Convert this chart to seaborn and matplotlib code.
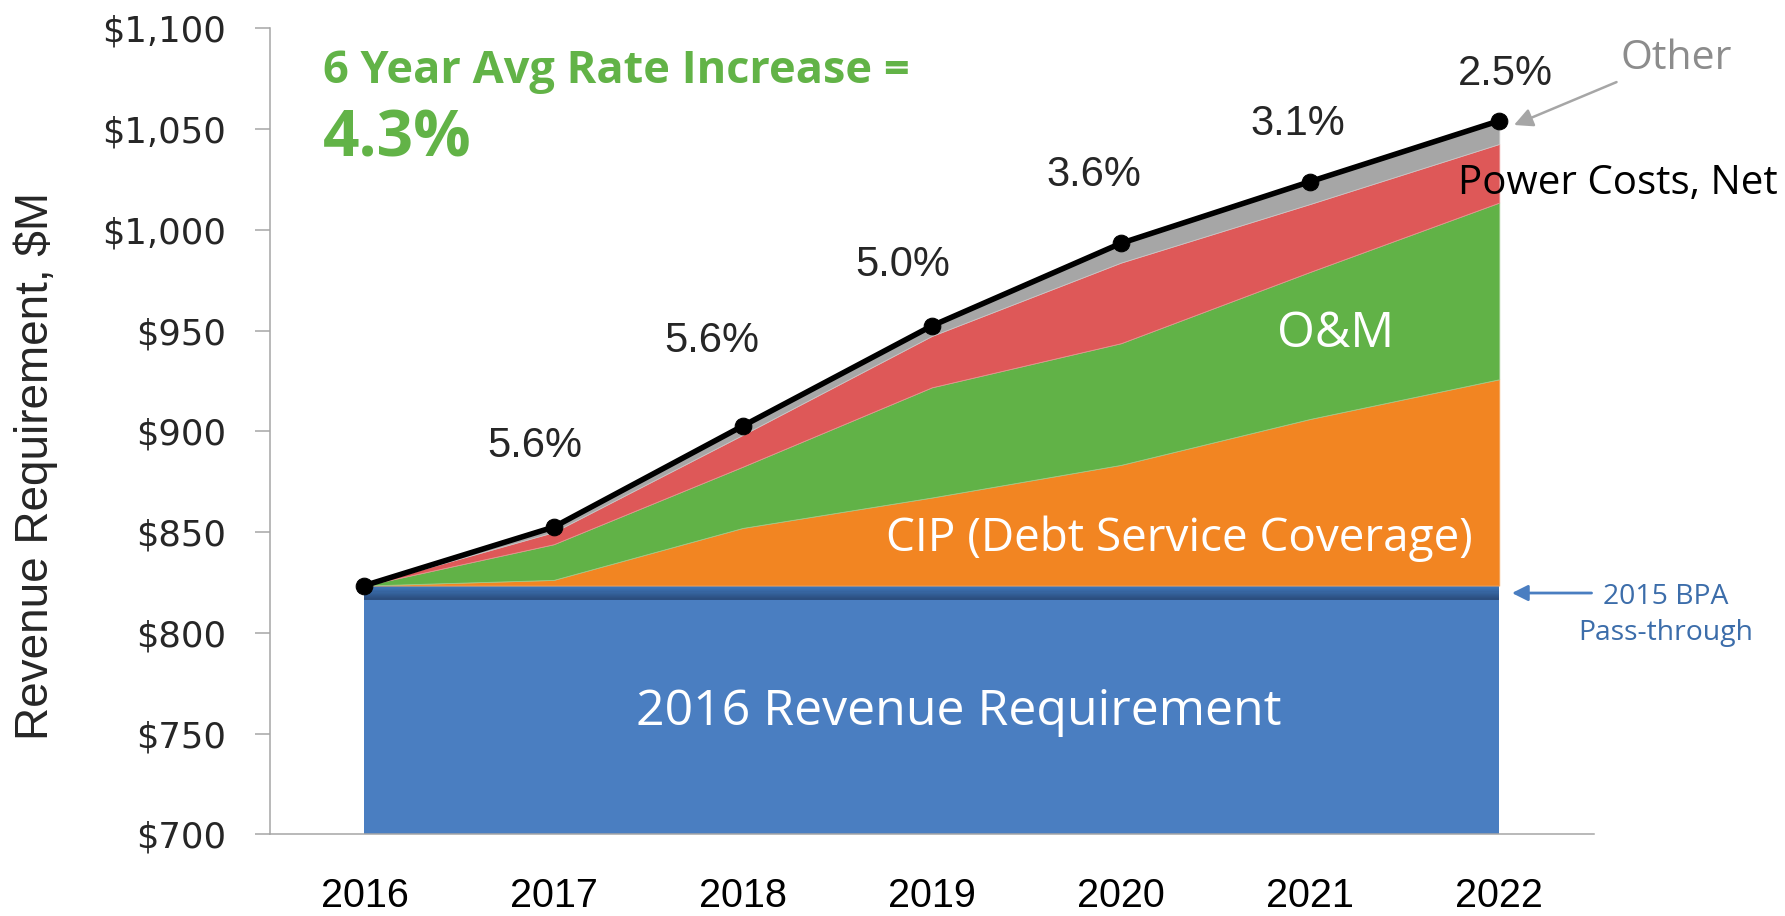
import numpy as np
import pandas as pd
import matplotlib
matplotlib.use("Agg")
import matplotlib.pyplot as plt
import seaborn as sns
from matplotlib.colors import to_rgb

# ---------------- data ----------------
years = ["2016", "2017", "2018", "2019", "2020", "2021", "2022"]
base_2016 = [816.5] * 7                      # 2016 Revenue Requirement
bpa_pass = [7.0] * 7                         # 2015 BPA Pass-through
cip = [0, 2.8, 28.6, 43.7, 59.9, 82.7, 102.4]   # CIP (Debt Service Coverage)
om = [0, 17.7, 30.4, 54.7, 60.4, 73.0, 87.7]    # O&M
power = [0, 6.0, 15.8, 25.5, 40.0, 33.7, 29.1]  # Power Costs, Net
other = [0, 2.5, 4.4, 5.0, 9.6, 11.1, 11.5]     # Other
rate_labels = ["", "5.6%", "5.6%", "5.0%", "3.6%", "3.1%", "2.5%"]
yticks = [700, 750, 800, 850, 900, 950, 1000, 1050, 1100]
avg_title = "6 Year Avg Rate Increase ="
avg_value = "4.3%"

# ---------------- styling ----------------
C_BLUE = "#4A7EC1"
C_ORANGE = "#F28522"
C_GREEN = "#61B247"
C_RED = "#DE5858"
C_GRAY = "#A6A6A6"
C_TITLE = "#62B347"
C_BPA_TXT = "#3C6DAA"
C_AXIS = "#A6A6A6"

sns.set_theme(style="white")
plt.rcParams["font.family"] = ["Liberation Sans", "DejaVu Sans"]

fig = plt.figure(figsize=(17.85, 9.16), dpi=100)
ax = fig.add_axes([0.1512, 0.0891, 0.7417, 0.8798])

x = np.arange(len(years))
ymin, ymax = yticks[0], yticks[-1]

b = np.array(base_2016, dtype=float)
bp = b + np.array(bpa_pass)
c1 = bp + np.array(cip)
c2 = c1 + np.array(om)
c3 = c2 + np.array(power)
total = c3 + np.array(other)

# base
ax.fill_between(x, ymin, b, color=C_BLUE, lw=0, zorder=1)
# BPA band with gradient (dark bottom, lighter top)
dark = np.array(to_rgb("#2A4C7C"))
light = np.array(to_rgb("#4079BD"))
nslice = 12
for i in range(nslice):
    lo = b + (bp - b) * i / nslice
    hi = b + (bp - b) * (i + 1) / nslice
    t = (i + 0.5) / nslice
    col = dark * (1 - t) + light * t
    ax.fill_between(x, lo, hi, color=col, lw=0, zorder=1)
ax.fill_between(x, bp, c1, color=C_ORANGE, lw=0.6, edgecolor="#F5A860", zorder=1)
ax.fill_between(x, c1, c2, color=C_GREEN, lw=0.6, edgecolor="#9CCB8A", zorder=1)
ax.fill_between(x, c2, c3, color=C_RED, lw=0.6, edgecolor="#E99090", zorder=1)
ax.fill_between(x, c3, total, color=C_GRAY, lw=0.6, edgecolor="#C8C8C8", zorder=1)

# total line with markers (seaborn)
df = pd.DataFrame({"x": x, "total": total})
sns.lineplot(data=df, x="x", y="total", ax=ax, color="black", linewidth=4.0,
             marker="o", markersize=12, markeredgecolor="black", zorder=5)

# axes formatting
ax.set_xlim(-0.5, 6.5)
ax.set_ylim(ymin, ymax)
ax.set_yticks(yticks)
ax.set_yticklabels([f"${v:,}" for v in yticks])
for lab in ax.get_yticklabels():
    lab.set_fontfamily("DejaVu Sans")
    lab.set_fontsize(25.5)
ax.set_xticks(x)
ax.set_xticklabels(years, fontsize=28.5)
ax.set_xticks(np.arange(-0.5, 7.0, 1.0), minor=True)
ax.tick_params(axis="x", which="major", length=0, pad=31, colors="black")
ax.tick_params(axis="x", which="minor", length=10, width=1.1, color=C_AXIS, direction="out")
ax.tick_params(axis="y", which="major", length=10.6, width=1.1, color=C_AXIS,
               direction="out", pad=21, left=True)
ax.set_xlabel("")
ax.set_ylabel("")
for s in ["top", "right"]:
    ax.spines[s].set_visible(False)
for s in ["left", "bottom"]:
    ax.spines[s].set_color(C_AXIS)
    ax.spines[s].set_linewidth(1.1)
ax.grid(False)

fig.text(0.0202, 0.491, "Revenue Requirement, $M", rotation=90, fontsize=33,
         ha="center", va="center")

# rate labels
rate_pos = [None, (0.90, 893.0), (1.834, 945.0), (2.844, 982.5),
            (3.854, 1027.5), (4.937, 1052.5), (6.03, 1077.5)]
for lab, pos in zip(rate_labels, rate_pos):
    if lab and pos:
        ax.text(pos[0], pos[1], lab, fontsize=30, ha="center", va="center", zorder=6)

# title
ax.text(0.0402, 0.947, avg_title, transform=ax.transAxes, fontsize=32.5,
        fontweight="bold", color=C_TITLE, ha="left", va="center",
        family=["Open Sans", "DejaVu Sans"])
ax.text(0.0402, 0.862, avg_value, transform=ax.transAxes, fontsize=46,
        fontweight="bold", color=C_TITLE, ha="left", va="center",
        family=["Open Sans", "DejaVu Sans"])

# in-area labels
lab_font = ["Open Sans", "DejaVu Sans"]
ax.text(3.142, 760.5, "2016 Revenue Requirement", fontsize=36, color="white",
        ha="center", va="center", family=lab_font, zorder=6)
ax.text(4.309, 846.5, "CIP (Debt Service Coverage)", fontsize=33, color="white",
        ha="center", va="center", family=lab_font, zorder=6)
ax.text(5.133, 948.0, "O&M", fontsize=35, color="white",
        ha="center", va="center", family=lab_font, zorder=6)
ax.text(6.627, 1023.0, "Power Costs, Net", fontsize=29, color="black",
        ha="center", va="center", family=lab_font, zorder=6, clip_on=False)
ax.text(6.933, 1085.0, "Other", fontsize=29.5, color="#8C8C8C",
        ha="center", va="center", family=lab_font, zorder=6, clip_on=False)
ax.annotate("", xy=(6.078, 1052.1), xytext=(6.62, 1073.4),
            arrowprops=dict(arrowstyle="-|>", color=C_GRAY, lw=1.8,
                            mutation_scale=28, shrinkA=0, shrinkB=0),
            annotation_clip=False, zorder=6)
ax.text(6.879, 818.0, "2015 BPA", fontsize=20.4, color=C_BPA_TXT,
        ha="center", va="center", family=lab_font, clip_on=False)
ax.text(6.879, 800.0, "Pass-through", fontsize=20.4, color=C_BPA_TXT,
        ha="center", va="center", family=lab_font, clip_on=False)
ax.annotate("", xy=(6.067, 819.8), xytext=(6.488, 819.8),
            arrowprops=dict(arrowstyle="-|>", color=C_BLUE, lw=2,
                            mutation_scale=24, shrinkA=0, shrinkB=0),
            annotation_clip=False, zorder=6)

fig.savefig("out.png", dpi=100)
